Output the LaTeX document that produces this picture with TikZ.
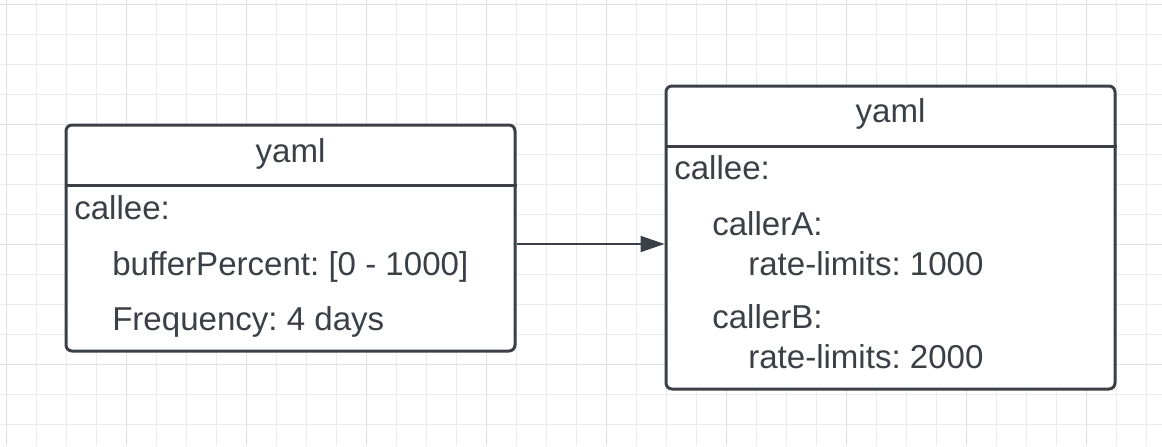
\documentclass[tikz,border=0pt]{standalone}
\usepackage{fontspec}
\setmainfont{Liberation Sans}
\usetikzlibrary{positioning,arrows.meta}
\definecolor{inkgray}{HTML}{3B3F46}
\definecolor{gridminor}{HTML}{EBEBEB}
\definecolor{gridmajor}{HTML}{E0E0E0}
\frenchspacing

\begin{document}
\begin{tikzpicture}[
    x=0.75pt, y=-0.75pt,
    yamlbox/.style={rectangle, draw=inkgray, fill=white, line width=2.25pt, rounded corners=4.5pt, inner sep=0pt},
    headline/.style={draw=inkgray, line width=2.25pt},
    entry/.style={anchor=base west, inner sep=0pt, text=inkgray, font=\fontsize{24.8}{29}\selectfont},
    title/.style={entry, anchor=base},
    flow/.style={-{Triangle[length=18pt, width=12pt]}, draw=inkgray, fill=inkgray, line width=1.5pt}
    ]
        \useasboundingbox (0,0) rectangle (1162,446);
        \fill[white] (0,0) rectangle (1162,446);

        %Grid
        \foreach \gx in {0,...,38}
            \draw[gridminor, line width=0.9pt] ({6.7+30*\gx},0) -- ++(0,446);
        \foreach \gy in {0,...,14}
            \draw[gridminor, line width=0.9pt] (0,{4.3+30*\gy}) -- ++(1162,0);
        \foreach \gx in {0,...,9}
            \draw[gridmajor, line width=0.9pt] ({6.7+120*\gx},0) -- ++(0,446);
        \foreach \gy in {0,...,3}
            \draw[gridmajor, line width=0.9pt] (0,{4.3+120*\gy}) -- ++(1162,0);

        %Boxes
        \node[yamlbox, minimum width=336.75pt, minimum height=169.5pt]
            (lbox) at (290.5,238) {};
        \node[yamlbox, minimum width=336.75pt, minimum height=227.25pt]
            (rbox) at (890.5,237.5) {};
        \coordinate (lhead) at (0,185);
        \coordinate (rhead) at (0,146);
        \draw[headline] (lbox.west |- lhead) -- (lbox.east |- lhead);
        \draw[headline] (rbox.west |- rhead) -- (rbox.east |- rhead);

        %Left texts
        \node[title] (ltitle) at (290.5,162) {yaml};
        \node[entry] (lcallee) at (74,219) {callee:};
        \node[entry] (lbuffer) at (112,275) {bufferPercent: [0 - 1000]};
        \node[entry] (lfreq) at (112,330) {Frequency: 4 days};

        %Right texts
        \node[title] (rtitle) at (890.5,122) {yaml};
        \node[entry] (rcallee) at (674,179) {callee:};
        \node[entry] (rcallerA) at (712,235) {callerA:};
        \node[entry] (rlimitA) at (748,275) {rate-limits: 1000};
        \node[entry] (rcallerB) at (712,328) {callerB:};
        \node[entry] (rlimitB) at (748,368) {rate-limits: 2000};

        %Lines
        \draw[flow] ([yshift=-4.5pt]lbox.east) coordinate (a0) -- (rbox.west |- a0);
    \end{tikzpicture}
\end{document}
